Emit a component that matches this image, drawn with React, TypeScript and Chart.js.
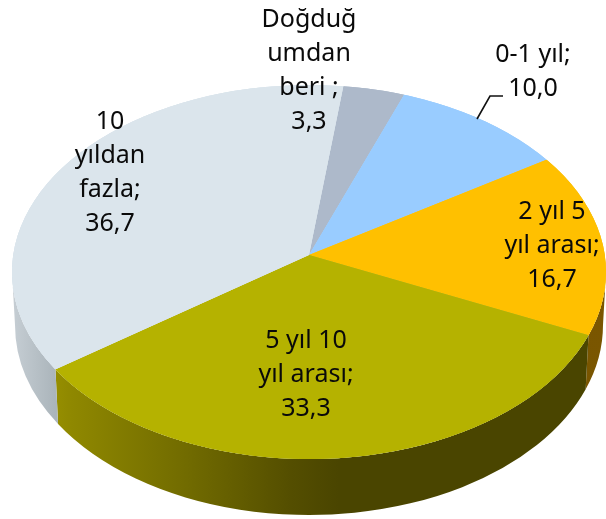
import React, { useEffect, useRef } from "react";
import { Chart, registerables } from "chart.js";

Chart.register(...registerables);

const categories = ["Doğduğumdan beri", "0-1 yıl", "2 yıl 5 yıl arası", "5 yıl 10 yıl arası", "10 yıldan fazla"];
const values = [3.3, 10.0, 16.7, 33.3, 36.7];
const labelLines = [
  ["Doğduğ", "umdan", "beri ;", "3,3"],
  ["0-1 yıl;", "10,0"],
  ["2 yıl 5", "yıl arası;", "16,7"],
  ["5 yıl 10", "yıl arası;", "33,3"],
  ["10", "yıldan", "fazla;", "36,7"],
];
const topColors = ["#ADB9CA", "#99CCFF", "#FFC000", "#B5B200", "#DBE5EC"];

// layout of the drawing (not data)
const labelAnchors = [
  { x: 309, y: 20 },
  { x: 533, y: 55 },
  { x: 552, y: 212 },
  { x: 306, y: 341 },
  { x: 110, y: 122 },
];
const LINE_HEIGHT = 34;
const leader = [[477, 119], [490, 96], [503, 96]];
const apex = { x: 309, y: 255 };
const topEllipse = { x: 309, y: 272, rx: 297, ry: 187 };
const lowEllipse = { x: 309, y: 325, rx: 294, ry: 190 };
const kUpper = 0.56;
const kLower = 0.63;

function wallFill(ctx: CanvasRenderingContext2D, i: number) {
  const g = ctx.createLinearGradient(12, 0, 606, 0);
  if (i === 2) {
    g.addColorStop(0, "#6B4C00");
    g.addColorStop(1, "#7A5600");
    return g;
  }
  if (i === 3) {
    g.addColorStop(0, "#A89F00");
    g.addColorStop(0.1, "#8F8800");
    g.addColorStop(0.3, "#706A00");
    g.addColorStop(0.47, "#544E00");
    g.addColorStop(0.55, "#4A4500");
    g.addColorStop(1, "#4A4500");
    return g;
  }
  const h = ctx.createLinearGradient(12, 0, 55, 0);
  h.addColorStop(0, "#C6CED4");
  h.addColorStop(1, "#ABB5BB");
  return h;
}

function rimParam(angle: number) {
  const k = Math.sin(angle) < 0 ? kUpper : kLower;
  const dx = Math.cos(angle);
  const dy = Math.sin(angle) * k;
  const ox = (apex.x - topEllipse.x) / topEllipse.rx;
  const oy = (apex.y - topEllipse.y) / topEllipse.ry;
  const ux = dx / topEllipse.rx;
  const uy = dy / topEllipse.ry;
  const a = ux * ux + uy * uy;
  const b = 2 * (ox * ux + oy * uy);
  const c = ox * ox + oy * oy - 1;
  const u = (-b + Math.sqrt(b * b - 4 * a * c)) / (2 * a);
  return Math.atan2(oy + u * uy, ox + u * ux);
}

const pie3d = {
  id: "pie3d",
  beforeDatasetsDraw(chart: any) {
    const ctx: CanvasRenderingContext2D = chart.ctx;
    const arcs = chart.getDatasetMeta(0).data;

    // side walls, from the arcs' angles
    arcs.forEach((arc: any, i: number) => {
      const p = arc.getProps(["startAngle", "endAngle"], true);
      const norm = (t: number) => {
        let r = t;
        while (r < -Math.PI / 2) r += Math.PI * 2;
        while (r >= (Math.PI * 3) / 2) r -= Math.PI * 2;
        return r;
      };
      let t0 = norm(rimParam(p.startAngle));
      let t1 = norm(rimParam(p.endAngle));
      if (t1 < t0) t1 += Math.PI * 2;
      t0 = Math.max(t0, 0);
      t1 = Math.min(t1, Math.PI);
      if (t1 <= t0) return;
      ctx.beginPath();
      ctx.ellipse(topEllipse.x, topEllipse.y, topEllipse.rx, topEllipse.ry, 0, t0, t1);
      ctx.ellipse(lowEllipse.x, lowEllipse.y, lowEllipse.rx, lowEllipse.ry, 0, t1, t0, true);
      ctx.closePath();
      ctx.fillStyle = wallFill(ctx, i);
      ctx.fill();
    });

    // top face: the library's arcs, in two flattened halves, clipped to the rim
    ctx.save();
    ctx.beginPath();
    ctx.ellipse(topEllipse.x, topEllipse.y, topEllipse.rx, topEllipse.ry, 0, 0, Math.PI * 2);
    ctx.fillStyle = topColors[4];
    ctx.fill();
    ctx.clip();
    const halves = [
      { k: kUpper, y: 0, h: apex.y },
      { k: kLower, y: apex.y, h: 519 - apex.y },
    ];
    halves.forEach((half) => {
      ctx.save();
      ctx.beginPath();
      ctx.rect(0, half.y, 606, half.h);
      ctx.clip();
      arcs.forEach((arc: any) => {
        const s = 345 / arc.outerRadius;
        for (let n = 0; n < 2; n++) {
          ctx.save();
          ctx.translate(apex.x, apex.y);
          ctx.scale(s, s * half.k);
          ctx.translate(-arc.x, -arc.y);
          arc.draw(ctx);
          ctx.restore();
        }
      });
      ctx.restore();
    });
    ctx.restore();

    // leader line
    ctx.beginPath();
    leader.forEach(([x, y], i) => (i ? ctx.lineTo(x, y) : ctx.moveTo(x, y)));
    ctx.strokeStyle = "#111";
    ctx.lineWidth = 1.6;
    ctx.stroke();

    // data labels
    ctx.fillStyle = "#0a0a0a";
    ctx.font = '25px "Noto Sans"';
    ctx.textAlign = "center";
    ctx.textBaseline = "middle";
    labelLines.forEach((lines, i) => {
      lines.forEach((line, j) => {
        ctx.fillText(line, labelAnchors[i].x, labelAnchors[i].y + j * LINE_HEIGHT);
      });
    });
    return false;
  },
};

export default function App() {
  const ref = useRef<HTMLCanvasElement>(null);
  useEffect(() => {
    const chart = new Chart(ref.current!, {
      type: "pie",
      data: {
        labels: categories,
        datasets: [{ data: values, backgroundColor: topColors, borderWidth: 0 }],
      },
      options: {
        responsive: false,
        animation: false,
        rotation: 6.5,
        plugins: { legend: { display: false }, tooltip: { enabled: false } },
      },
      plugins: [pie3d],
    } as any);
    return () => chart.destroy();
  }, []);
  return (
    <div style={{ position: "fixed", left: 0, top: 0, width: 606, height: 519, background: "#fff" }}>
      <canvas ref={ref} width={606} height={519} style={{ display: "block" }} />
    </div>
  );
}
